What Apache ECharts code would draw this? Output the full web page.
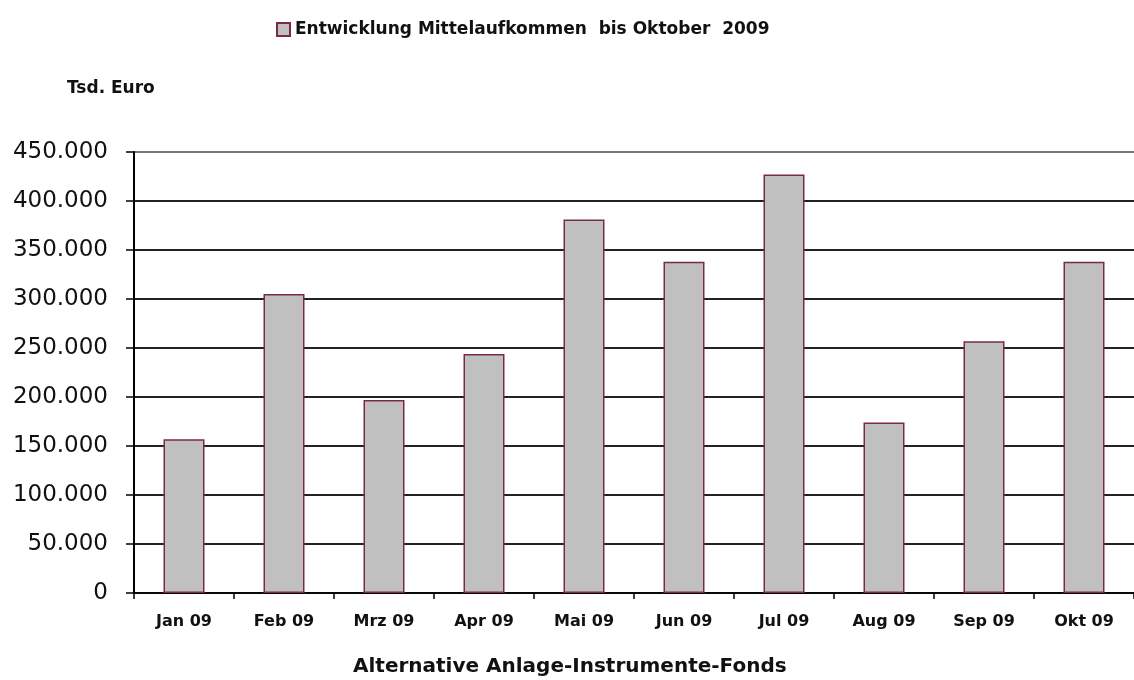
<!DOCTYPE html>
<html>
<head>
<meta charset="utf-8">
<script src="https://cdn.jsdelivr.net/npm/echarts@6/dist/echarts.min.js"></script>
<style>html,body{margin:0;padding:0;background:#fff}#c{width:1134px;height:680px}</style>
</head>
<body>
<div id="c"></div>
<script>
const categories = ['Jan 09','Feb 09','Mrz 09','Apr 09','Mai 09','Jun 09','Jul 09','Aug 09','Sep 09','Okt 09'];
const values = [157000, 305000, 197000, 244000, 381000, 338000, 427000, 174000, 257000, 338000];
const seriesName = 'Entwicklung Mittelaufkommen  bis Oktober  2009';
const yUnit = 'Tsd. Euro';
const xTitle = 'Alternative Anlage-Instrumente-Fonds';

function fmt(v){ return String(v).replace(/\B(?=(\d{3})+(?!\d))/g, '.'); }

const chart = echarts.init(document.getElementById('c'));
const splitColors = [];
for (let i = 0; i < 9; i++) splitColors.push('#222');
splitColors.push('#777');

chart.setOption({
  animation: false,
  textStyle: { fontFamily: 'DejaVu Sans' },
  legend: {
    left: 271, top: 16,
    itemWidth: 13, itemHeight: 13,
    icon: 'rect',
    textStyle: { fontSize: 17, fontWeight: 'bold', color: '#111', fontFamily: 'DejaVu Sans' },
    data: [seriesName]
  },
  grid: { left: 134, right: 0, top: 152, bottom: 87, containLabel: false },
  xAxis: {
    type: 'category',
    data: categories,
    axisLine: { lineStyle: { color: '#000', width: 1.5 } },
    axisTick: { show: true, length: 6, lineStyle: { color: '#000', width: 1.5 } },
    axisLabel: { fontSize: 16, fontWeight: 'bold', color: '#111', margin: 21, fontFamily: 'DejaVu Sans' }
  },
  yAxis: {
    type: 'value', min: 0, max: 450000, interval: 50000,
    axisLine: { show: true, lineStyle: { color: '#000', width: 2 } },
    axisTick: { show: true, length: 8, lineStyle: { color: '#000', width: 1.5 } },
    axisLabel: { fontSize: 23, color: '#111', margin: 26, formatter: fmt, fontFamily: 'DejaVu Sans' },
    splitLine: { show: true, lineStyle: { color: splitColors, width: 2 } }
  },
  graphic: [
    { type: 'text', left: 67, top: 80, style: { text: yUnit, font: 'bold 17px "DejaVu Sans"', fill: '#111' } },
    { type: 'text', left: 353, top: 657, style: { text: xTitle, font: 'bold 20px "DejaVu Sans"', fill: '#111' } }
  ],
  series: [{
    name: seriesName,
    type: 'bar',
    data: values,
    barWidth: 41,
    itemStyle: { color: '#c0c0c0', borderColor: '#7b2a40', borderWidth: 1.5 }
  }]
});
</script>
</body>
</html>
